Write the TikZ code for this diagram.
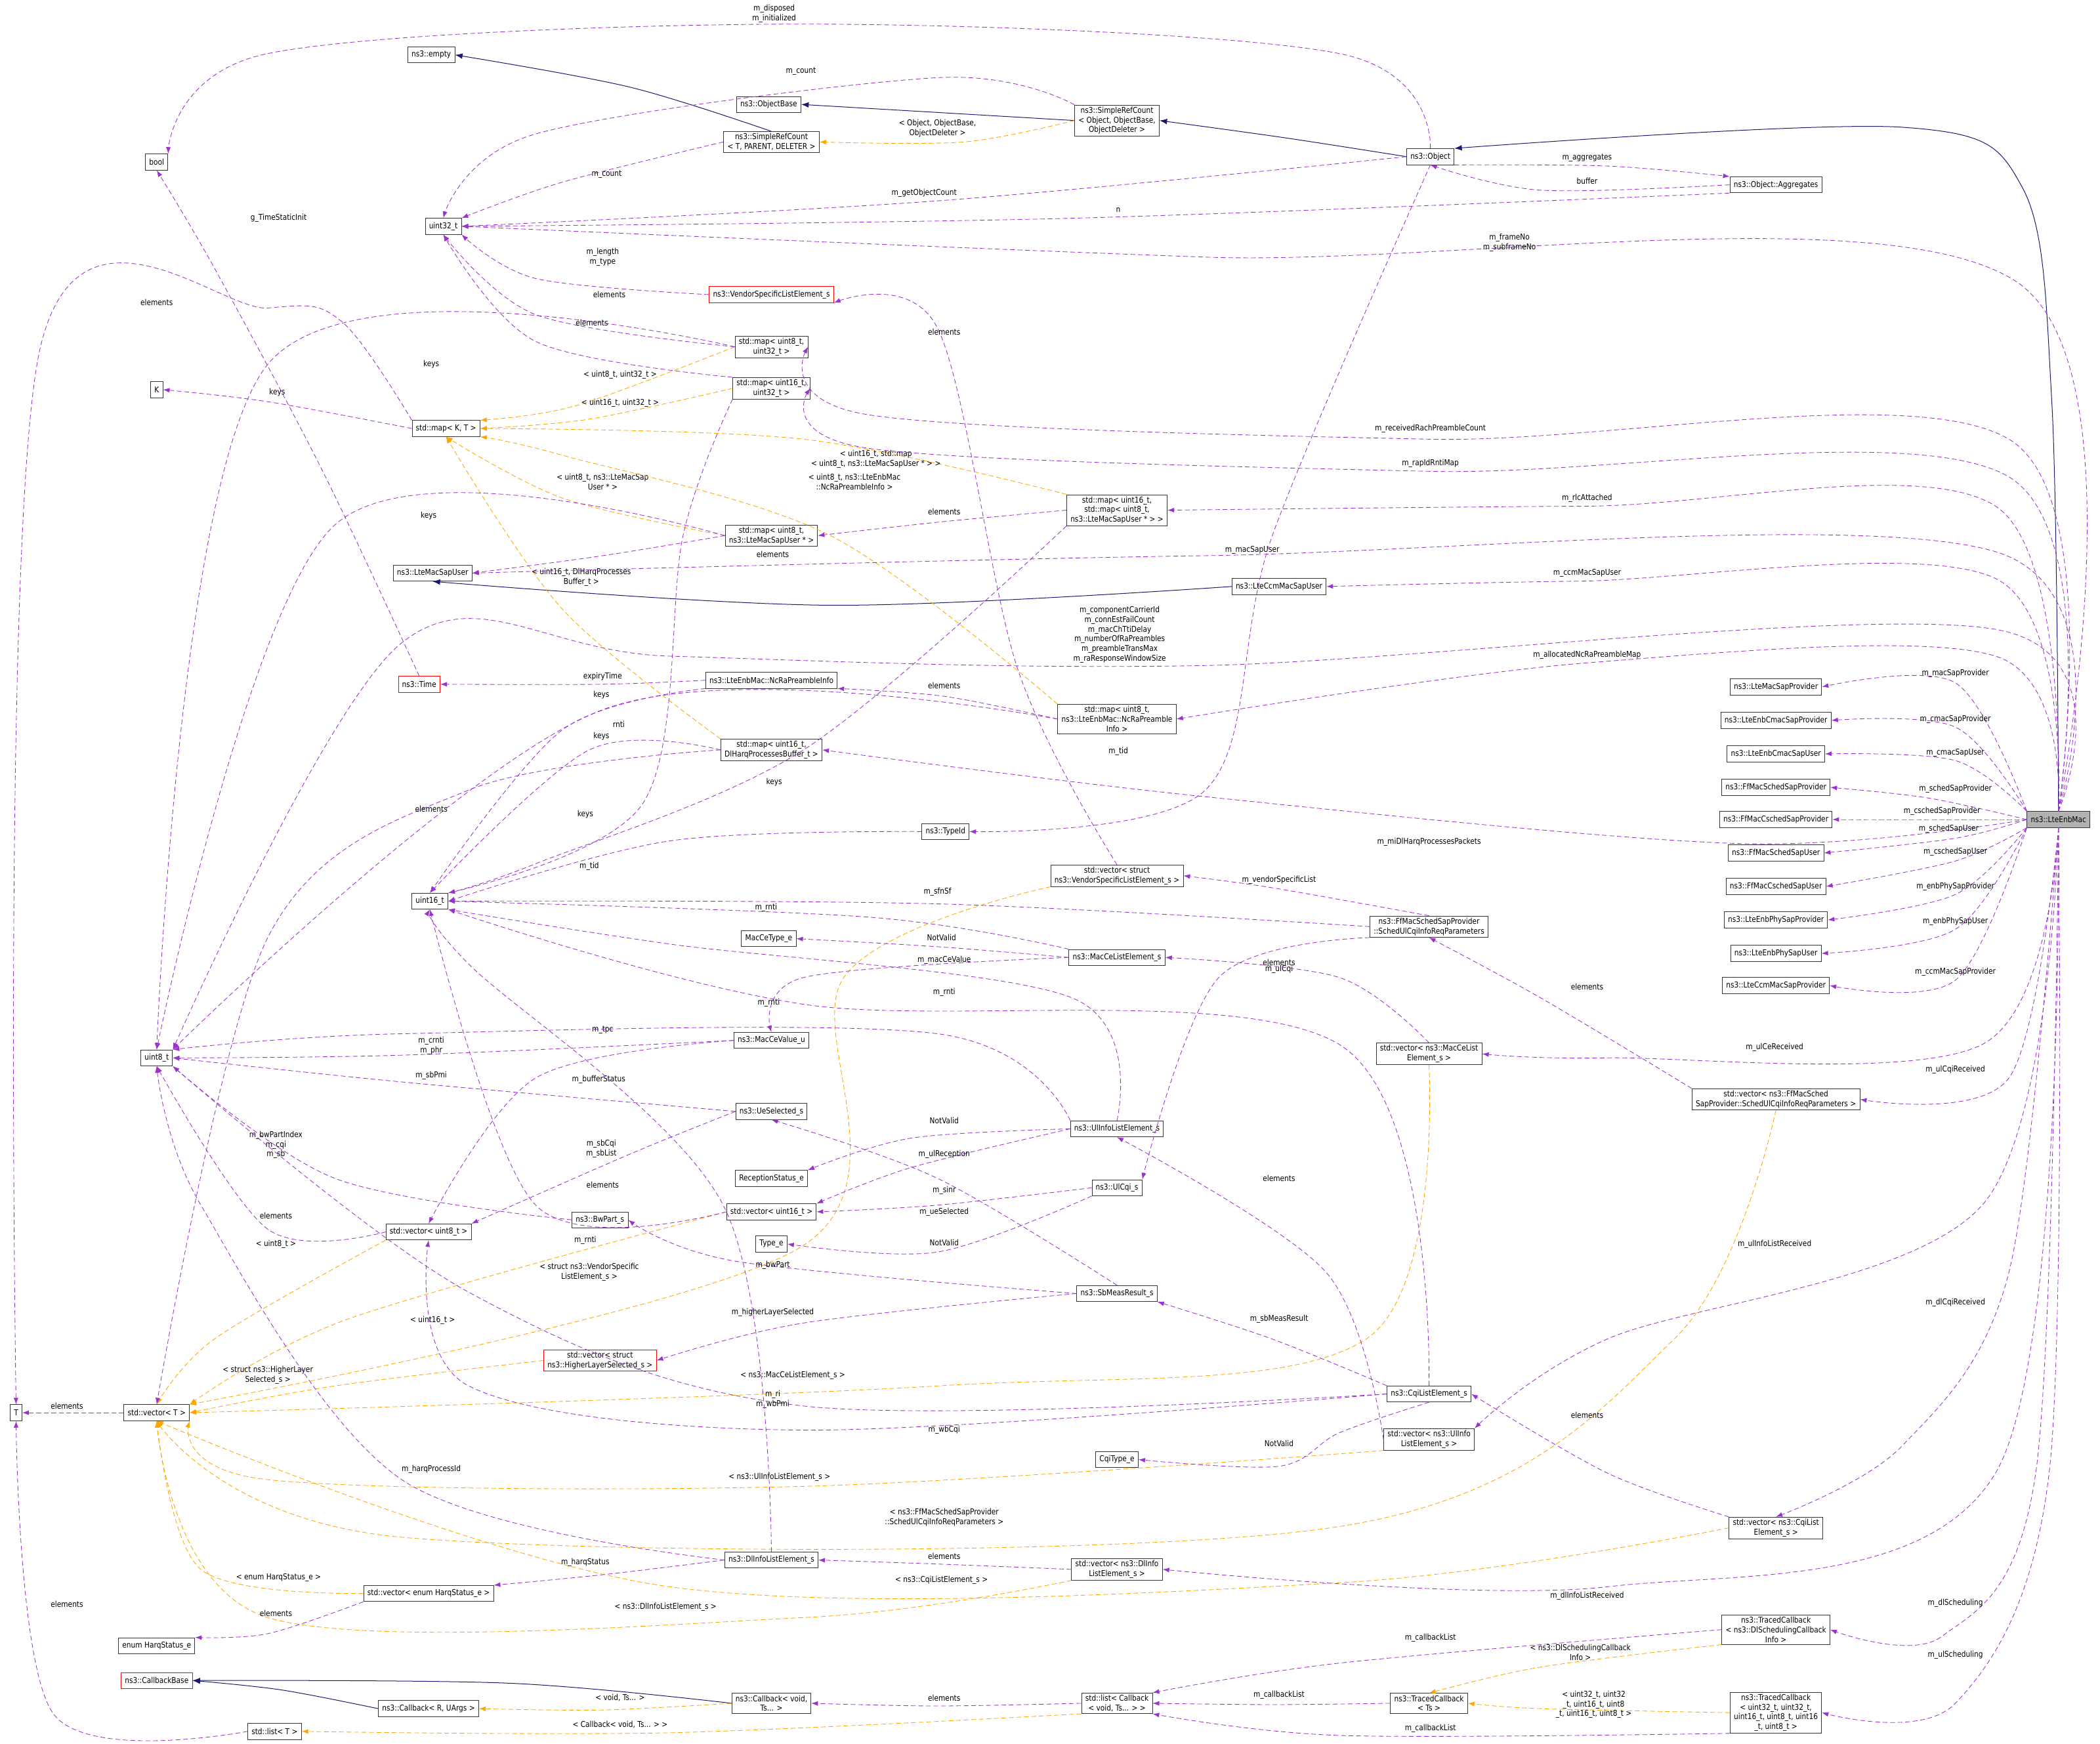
\documentclass[tikz,border=0pt]{standalone}
\usepackage{fontspec}
\setmainfont{DejaVu Sans}[FakeStretch=0.86]
\usetikzlibrary{arrows.meta,calc}
\definecolor{vio}{HTML}{9A32CD}
\definecolor{org}{HTML}{FFA500}
\definecolor{mblue}{HTML}{191970}
\newcommand\E[4]{\draw[#1] plot[smooth,tension=0.55] coordinates {#2}; \node[lbl] at (#3) {#4};}
\begin{document}
\catcode`\_=12
\begin{tikzpicture}[x=0.05cm,y=-0.05cm,
 every node/.style={font=\fontsize{8.6}{10.3}\selectfont},
 bx/.style={draw=black!80,line width=0.6pt,fill=white,inner xsep=4pt,inner ysep=2pt,minimum height=17pt,align=center},
 rbx/.style={bx,draw=red},
 lbl/.style={align=center,inner sep=0pt},
 mem/.style={vio,dash pattern=on 5pt off 3pt,line width=0.6pt,-{Latex[length=7pt,width=5pt]}},
 tmpl/.style={org,dash pattern=on 5pt off 3pt,line width=0.6pt,-{Latex[length=7pt,width=5pt]}},
 inh/.style={mblue,line width=0.7pt,-{Latex[length=8pt,width=6pt]}}]
\useasboundingbox (0,0) rectangle (1568,1302);
% nodes
\node[bx] (bool) at (117,121) {bool};
\node[bx] (empty) at (322,41) {ns3::empty};
\node[bx] (objbase) at (574,78) {ns3::ObjectBase};
\node[bx] (srcobj) at (834,90) {ns3::SimpleRefCount\\< Object, ObjectBase,\\ObjectDeleter >};
\node[bx] (srct) at (576,106) {ns3::SimpleRefCount\\< T, PARENT, DELETER >};
\node[bx] (obj) at (1068,117) {ns3::Object};
\node[bx] (aggr) at (1326,138) {ns3::Object::Aggregates};
\node[bx] (u32) at (331,169) {uint32_t};
\node[rbx] (vendor) at (576,220) {ns3::VendorSpecificListElement_s};
\node[bx] (m8u32) at (576,259) {std::map< uint8_t,\\uint32_t >};
\node[bx] (m16u32) at (576,290) {std::map< uint16_t,\\uint32_t >};
\node[bx] (K) at (117,291) {K};
\node[bx] (mapkt) at (333,320) {std::map< K, T >};
\node[bx] (m16map) at (834,381) {std::map< uint16_t,\\std::map< uint8_t,\\ns3::LteMacSapUser * > >};
\node[bx] (m8sap) at (576,400) {std::map< uint8_t,\\ns3::LteMacSapUser * >};
\node[bx] (sapuser) at (323,428) {ns3::LteMacSapUser};
\node[bx] (ccmsap) at (955,438) {ns3::LteCcmMacSapUser};
\node[rbx] (time) at (313,511) {ns3::Time};
\node[bx] (ncra) at (576,508) {ns3::LteEnbMac::NcRaPreambleInfo};
\node[bx] (m8ncra) at (834,537) {std::map< uint8_t,\\ns3::LteEnbMac::NcRaPreamble\\Info >};
\node[bx] (m16harq) at (576,560) {std::map< uint16_t,\\DlHarqProcessesBuffer_t >};
\node[bx] (typeid) at (706,621) {ns3::TypeId};
\node[bx] (u16) at (321,673) {uint16_t};
\node[bx] (vvendor) at (834,654) {std::vector< struct\\ns3::VendorSpecificListElement_s >};
\node[bx] (schedul) at (1067,692) {ns3::FfMacSchedSapProvider\\::SchedUlCqiInfoReqParameters};
\node[bx] (mcetype) at (574,701) {MacCeType_e};
\node[bx] (mcelist) at (834,715) {ns3::MacCeListElement_s};
\node[bx] (u8) at (117,790) {uint8_t};
\node[bx] (mceval) at (576,777) {ns3::MacCeValue_u};
\node[bx] (vmcelist) at (1067,787) {std::vector< ns3::MacCeList\\Element_s >};
\node[bx] (uesel) at (576,830) {ns3::UeSelected_s};
\node[bx] (vschedul) at (1326,821) {std::vector< ns3::FfMacSched\\SapProvider::SchedUlCqiInfoReqParameters >};
\node[bx] (ulinfo) at (834,843) {ns3::UlInfoListElement_s};
\node[bx] (recst) at (576,880) {ReceptionStatus_e};
\node[bx] (ulcqi) at (834,887) {ns3::UlCqi_s};
\node[bx] (v16) at (576,905) {std::vector< uint16_t >};
\node[bx] (bwpart) at (448,911) {ns3::BwPart_s};
\node[bx] (v8) at (320,920) {std::vector< uint8_t >};
\node[bx] (typee) at (576,929) {Type_e};
\node[bx] (sbmeas) at (834,966) {ns3::SbMeasResult_s};
\node[rbx] (vhls) at (448,1016) {std::vector< struct\\ns3::HigherLayerSelected_s >};
\node[bx] (T) at (12,1055) {T};
\node[bx] (vT) at (117,1055) {std::vector< T >};
\node[bx] (cqilist) at (1067,1041) {ns3::CqiListElement_s};
\node[bx] (vulinfo) at (1067,1075) {std::vector< ns3::UlInfo\\ListElement_s >};
\node[bx] (cqitype) at (834,1090) {CqiType_e};
\node[bx] (vcqi) at (1326,1141) {std::vector< ns3::CqiList\\Element_s >};
\node[bx] (dlinfo) at (576,1165) {ns3::DlInfoListElement_s};
\node[bx] (vdlinfo) at (834,1172) {std::vector< ns3::DlInfo\\ListElement_s >};
\node[bx] (vharq) at (320,1190) {std::vector< enum HarqStatus_e >};
\node[bx] (harq) at (117,1229) {enum HarqStatus_e};
\node[rbx] (cbbase) at (117,1255) {ns3::CallbackBase};
\node[bx] (cbr) at (320,1276) {ns3::Callback< R, UArgs >};
\node[bx] (cbvoid) at (576,1272) {ns3::Callback< void,\\Ts... >};
\node[bx] (lcb) at (834,1272) {std::list< Callback\\< void, Ts... > >};
\node[bx] (tcts) at (1067,1272) {ns3::TracedCallback\\< Ts >};
\node[bx] (tcdl) at (1326,1217) {ns3::TracedCallback\\< ns3::DlSchedulingCallback\\Info >};
\node[bx] (tcu32) at (1326,1279) {ns3::TracedCallback\\< uint32_t, uint32_t,\\uint16_t, uint8_t, uint16\\_t, uint8_t >};
\node[bx] (listT) at (205,1293) {std::list< T >};
\node[bx,fill=black!30] (enb) at (1537,612) {ns3::LteEnbMac};
\node[bx] (p1) at (1326,513) {ns3::LteMacSapProvider};
\node[bx] (p2) at (1326,538) {ns3::LteEnbCmacSapProvider};
\node[bx] (p3) at (1326,563) {ns3::LteEnbCmacSapUser};
\node[bx] (p4) at (1326,588) {ns3::FfMacSchedSapProvider};
\node[bx] (p5) at (1326,612) {ns3::FfMacCschedSapProvider};
\node[bx] (p6) at (1326,637) {ns3::FfMacSchedSapUser};
\node[bx] (p7) at (1326,662) {ns3::FfMacCschedSapUser};
\node[bx] (p8) at (1326,687) {ns3::LteEnbPhySapProvider};
\node[bx] (p9) at (1326,712) {ns3::LteEnbPhySapUser};
\node[bx] (p10) at (1326,736) {ns3::LteCcmMacSapProvider};
% inheritance
\draw[inh] plot[smooth,tension=0.55] coordinates {(enb.north) (1532,300) (1510,140) (1420,95) (obj.north east)};
\draw[inh] plot[smooth,tension=0.55] coordinates {(obj.west) (960,103) (srcobj.east)};
\draw[inh] (srcobj.west) -- (objbase.east);
\draw[inh] plot[smooth,tension=0.55] coordinates {(srct.north) (470,65) (empty.east)};
\draw[inh] plot[smooth,tension=0.55] coordinates {(ccmsap.west) (620,452) (sapuser.south)};
\draw[inh] plot[smooth,tension=0.55] coordinates {(cbvoid.west) (380,1257) (cbbase.east)};
\draw[inh] plot[smooth,tension=0.55] coordinates {(cbr.west) (210,1262) (cbbase.east)};
% templates
\E{tmpl}{(srcobj.west) (720,106) (srct.east)}{700,96}{< Object, ObjectBase,\\ObjectDeleter >}
\E{tmpl}{(m8u32.west) (430,303) (mapkt.north east)}{463,280}{< uint8_t, uint32_t >}
\E{tmpl}{(m16u32.west) (440,313) (mapkt.east)}{463,301}{< uint16_t, uint32_t >}
\E{tmpl}{(m16map.north west) (600,328) (mapkt.east)}{654,343}{< uint16_t, std::map\\< uint8_t, ns3::LteMacSapUser * > >}
\E{tmpl}{(m8sap.west) (420,372) (mapkt.south)}{450,360}{< uint8_t, ns3::LteMacSap\\User * >}
\E{tmpl}{(m8ncra.north west) (620,400) (420,340) (mapkt.south east)}{638,360}{< uint8_t, ns3::LteEnbMac\\::NcRaPreambleInfo >}
\E{tmpl}{(m16harq.north west) (420,455) (mapkt.south)}{434,431}{< uint16_t, DlHarqProcesses\\Buffer_t >}
\E{tmpl}{(v8.south west) (160,1000) (vT.north)}{206,929}{< uint8_t >}
\E{tmpl}{(v16.west) (260,985) (vT.north east)}{323,986}{< uint16_t >}
\E{tmpl}{(vvendor.south west) (630,730) (600,930) (vT.north east)}{440,950}{< struct ns3::VendorSpecific\\ListElement_s >}
\E{tmpl}{(vhls.west) (250,1035) (vT.east)}{200,1027}{< struct ns3::HigherLayer\\Selected_s >}
\E{tmpl}{(vmcelist.south) (1020,1000) (700,1035) (vT.east)}{592,1027}{< ns3::MacCeListElement_s >}
\E{tmpl}{(vulinfo.south west) (600,1110) (200,1105) (vT.south east)}{582,1103}{< ns3::UlInfoListElement_s >}
\E{tmpl}{(vschedul.south) (1250,1000) (1000,1140) (300,1148) (vT.south)}{705,1133}{< ns3::FfMacSchedSapProvider\\::SchedUlCqiInfoReqParameters >}
\E{tmpl}{(vcqi.west) (1000,1182) (500,1185) (vT.south)}{703,1180}{< ns3::CqiListElement_s >}
\E{tmpl}{(vdlinfo.south west) (600,1208) (200,1208) (vT.south)}{497,1200}{< ns3::DlInfoListElement_s >}
\E{tmpl}{(vharq.west) (150,1172) (vT.south)}{208,1178}{< enum HarqStatus_e >}
\E{tmpl}{(cbvoid.west) (450,1277) (cbr.east)}{463,1268}{< void, Ts... >}
\E{tmpl}{(lcb.south west) (500,1294) (listT.east)}{463,1288}{< Callback< void, Ts... > >}
\E{tmpl}{(tcdl.south west) (1150,1245) (tcts.north)}{1180,1234}{< ns3::DlSchedulingCallback\\Info >}
\E{tmpl}{(tcu32.west) (1150,1276) (tcts.east)}{1190,1273}{< uint32_t, uint32\\_t, uint16_t, uint8\\_t, uint16_t, uint8_t >}
% members
\E{mem}{(obj.north) (1000,40) (600,18) (200,40) (bool.north east)}{578,10}{m_disposed\\m_initialized}
\E{mem}{(srcobj.north west) (700,58) (400,100) (u32.north)}{598,53}{m_count}
\E{mem}{(srct.west) (420,136) (u32.north east)}{453,130}{m_count}
\E{mem}{(obj.west) (700,150) (u32.east)}{690,144}{m_getObjectCount}
\E{mem}{(obj.south east) (1200,124) (aggr.north west)}{1185,118}{m_aggregates}
\E{mem}{(aggr.west) (1150,142) (obj.south)}{1185,135}{buffer}
\E{mem}{(aggr.south west) (800,163) (u32.east)}{835,157}{n}
\E{mem}{(enb.north) (1505,210) (900,192) (u32.east)}{1127,181}{m_frameNo\\m_subframeNo}
\E{mem}{(time.north) (240,350) (160,200) (bool.south)}{208,163}{g_TimeStaticInit}
\E{mem}{(vendor.west) (400,208) (u32.south east)}{450,192}{m_length\\m_type}
\E{mem}{(m8u32.west) (400,235) (u32.south)}{455,220}{elements}
\E{mem}{(m16u32.north west) (400,255) (u32.south)}{442,241}{elements}
\E{mem}{(m8u32.west) (200,272) (u8.north)}{322,272}{keys}
\E{mem}{(mapkt.west) (200,300) (K.east)}{207,293}{keys}
\E{mem}{(mapkt.north west) (255,240) (200,230) (30,260) (T.north)}{117,226}{elements}
\E{mem}{(m16map.west) (700,390) (m8sap.east)}{705,382}{elements}
\E{mem}{(m16map.south west) (600,560) (400,645) (u16.north east)}{578,584}{keys}
\E{mem}{(m8sap.west) (250,392) (u8.north)}{320,385}{keys}
\E{mem}{(m8sap.west) (450,415) (sapuser.east)}{577,414}{elements}
\E{mem}{(enb.north) (1500,328) (1068,328) (650,310) (m8u32.east)}{1068,320}{m_receivedRachPreambleCount}
\E{mem}{(enb.north) (1498,355) (1068,352) (650,335) (m16u32.east)}{1068,346}{m_rapIdRntiMap}
\E{mem}{(enb.north) (1490,378) (1185,378) (m16map.east)}{1185,372}{m_rlcAttached}
\E{mem}{(enb.north) (1490,412) (900,415) (sapuser.east)}{935,411}{m_macSapUser}
\E{mem}{(enb.north) (1490,432) (1180,434) (ccmsap.east)}{1185,428}{m_ccmMacSapUser}
\E{mem}{(enb.north) (1490,470) (900,497) (500,490) (300,480) (u8.north east)}{836,474}{m_componentCarrierId\\m_connEstFailCount\\m_macChTtiDelay\\m_numberOfRaPreambles\\m_preambleTransMax\\m_raResponseWindowSize}
\E{mem}{(enb.north) (1490,490) (1185,495) (m8ncra.east)}{1185,489}{m_allocatedNcRaPreambleMap}
\E{mem}{(ncra.west) (450,511) (time.east)}{450,505}{expiryTime}
\E{mem}{(m8ncra.west) (705,520) (ncra.south east)}{705,512}{elements}
\E{mem}{(m8ncra.west) (450,530) (u8.north east)}{449,519}{keys}
\E{mem}{(ncra.south west) (420,545) (u16.north)}{462,541}{rnti}
\E{mem}{(m16harq.west) (440,560) (u16.north)}{449,550}{keys}
\E{mem}{(m16harq.west) (350,590) (200,700) (vT.north)}{322,604}{elements}
\E{mem}{(enb.west) (1300,630) (900,595) (m16harq.east)}{1067,629}{m_miDlHarqProcessesPackets}
\E{mem}{(obj.south) (950,400) (900,590) (typeid.east)}{835,561}{m_tid}
\E{mem}{(typeid.west) (500,628) (u16.east)}{440,647}{m_tid}
\E{mem}{(m16u32.south west) (510,400) (480,600) (u16.north east)}{437,608}{keys}
\E{mem}{(enb.north west) (1460,510) (p1.east)}{1460,503}{m_macSapProvider}
\E{mem}{(enb.north west) (1460,543) (p2.east)}{1460,537}{m_cmacSapProvider}
\E{mem}{(enb.north west) (1460,568) (p3.east)}{1460,562}{m_cmacSapUser}
\E{mem}{(enb.west) (1440,596) (p4.east)}{1460,589}{m_schedSapProvider}
\E{mem}{(enb.west) (p5.east)}{1450,606}{m_cschedSapProvider}
\E{mem}{(enb.west) (1460,626) (p6.east)}{1455,619}{m_schedSapUser}
\E{mem}{(enb.south west) (1460,643) (p7.east)}{1460,636}{m_cschedSapUser}
\E{mem}{(enb.south west) (1460,668) (p8.east)}{1460,662}{m_enbPhySapProvider}
\E{mem}{(enb.south west) (1460,694) (p9.east)}{1460,688}{m_enbPhySapUser}
\E{mem}{(enb.south west) (1460,732) (p10.east)}{1460,726}{m_ccmMacSapProvider}
\E{mem}{(vvendor.north) (760,500) (700,245) (vendor.south east)}{705,248}{elements}
\E{mem}{(schedul.north) (950,663) (vvendor.east)}{955,657}{m_vendorSpecificList}
\E{mem}{(schedul.west) (700,675) (u16.east)}{700,666}{m_sfnSf}
\E{mem}{(schedul.south west) (910,730) (ulcqi.north east)}{955,724}{m_ulCqi}
\E{mem}{(mcelist.north west) (650,685) (u16.east)}{572,678}{m_rnti}
\E{mem}{(mcelist.west) (700,707) (mcetype.east)}{703,700}{NotValid}
\E{mem}{(mcelist.west) (600,730) (mceval.north)}{705,717}{m_macCeValue}
\E{mem}{(vmcelist.north) (1000,730) (mcelist.east)}{955,719}{elements}
\E{mem}{(enb.south) (1480,780) (1200,790) (vmcelist.east)}{1325,782}{m_ulCeReceived}
\E{mem}{(vschedul.north west) (1150,745) (schedul.south)}{1185,737}{elements}
\E{mem}{(enb.south) (1500,805) (vschedul.east)}{1460,799}{m_ulCqiReceived}
\E{mem}{(mceval.west) (300,788) (u8.east)}{322,781}{m_crnti\\m_phr}
\E{mem}{(mceval.west) (400,805) (v8.north)}{447,806}{m_bufferStatus}
\E{mem}{(uesel.west) (300,808) (u8.east)}{322,803}{m_sbPmi}
\E{mem}{(uesel.west) (470,862) (v8.north east)}{449,858}{m_sbCqi\\m_sbList}
\E{mem}{(ulinfo.north) (800,745) (500,705) (u16.south east)}{574,749}{m_rnti}
\E{mem}{(ulinfo.north west) (700,772) (300,772) (u8.north east)}{450,769}{m_tpc}
\E{mem}{(ulinfo.west) (680,850) (recst.north east)}{705,837}{NotValid}
\E{mem}{(ulinfo.west) (680,872) (v16.north east)}{705,862}{m_ulReception}
\E{mem}{(ulcqi.west) (700,900) (v16.east)}{705,889}{m_sinr}
\E{mem}{(ulcqi.south west) (700,935) (typee.east)}{705,928}{NotValid}
\E{mem}{(v16.west) (400,900) (u16.south)}{450,885}{elements}
\E{mem}{(v8.west) (200,918) (u8.south)}{206,908}{elements}
\E{mem}{(bwpart.west) (250,880) (u8.south east)}{206,855}{m_bwPartIndex\\m_cqi\\m_sb}
\E{mem}{(sbmeas.north) (700,880) (uesel.south)}{705,905}{m_ueSelected}
\E{mem}{(sbmeas.west) (550,942) (bwpart.east)}{577,945}{m_bwPart}
\E{mem}{(sbmeas.west) (600,988) (vhls.east)}{577,980}{m_higherLayerSelected}
\E{mem}{(cqilist.north west) (950,1000) (sbmeas.south east)}{955,985}{m_sbMeasResult}
\E{mem}{(cqilist.north) (1000,780) (600,750) (u16.south east)}{705,741}{m_rnti}
\E{mem}{(cqilist.west) (600,1050) (350,965) (u8.south east)}{577,1045}{m_ri\\m_wbPmi}
\E{mem}{(cqilist.west) (600,1068) (350,1035) (v8.south)}{705,1068}{m_wbCqi}
\E{mem}{(cqilist.south) (1000,1070) (955,1095) (cqitype.east)}{955,1078}{NotValid}
\E{mem}{(vulinfo.west) (990,950) (ulinfo.south)}{955,880}{elements}
\E{mem}{(enb.south) (1480,900) (1200,1000) (vulinfo.north east)}{1325,929}{m_ulInfoListReceived}
\E{mem}{(vcqi.north west) (1200,1100) (cqilist.east)}{1185,1057}{elements}
\E{mem}{(enb.south) (1500,950) (1420,1080) (vcqi.north)}{1460,973}{m_dlCqiReceived}
\E{mem}{(dlinfo.north) (540,900) (350,720) (u16.south)}{437,926}{m_rnti}
\E{mem}{(dlinfo.west) (300,1105) (150,900) (u8.south)}{322,1097}{m_harqProcessId}
\E{mem}{(dlinfo.west) (450,1176) (vharq.north east)}{437,1167}{m_harqStatus}
\E{mem}{(vdlinfo.west) (700,1168) (dlinfo.east)}{705,1162}{elements}
\E{mem}{(enb.south) (1490,1100) (1200,1185) (vdlinfo.east)}{1185,1192}{m_dlInfoListReceived}
\E{mem}{(vharq.south west) (200,1220) (harq.north east)}{206,1205}{elements}
\E{mem}{(vT.west) (T.east)}{50,1050}{elements}
\E{mem}{(listT.west) (40,1280) (T.south)}{50,1198}{elements}
\E{mem}{(tcdl.west) (1000,1242) (lcb.north east)}{1068,1223}{m_callbackList}
\E{mem}{(tcts.west) (950,1273) (lcb.east)}{955,1266}{m_callbackList}
\E{mem}{(tcu32.south west) (1000,1296) (lcb.south east)}{1068,1291}{m_callbackList}
\E{mem}{(lcb.west) (700,1274) (cbvoid.east)}{705,1268}{elements}
\E{mem}{(enb.south) (1520,1100) (1450,1222) (tcdl.east)}{1460,1197}{m_dlScheduling}
\E{mem}{(enb.south) (1530,1100) (1460,1272) (tcu32.east)}{1460,1236}{m_ulScheduling}
\end{tikzpicture}
\end{document}
